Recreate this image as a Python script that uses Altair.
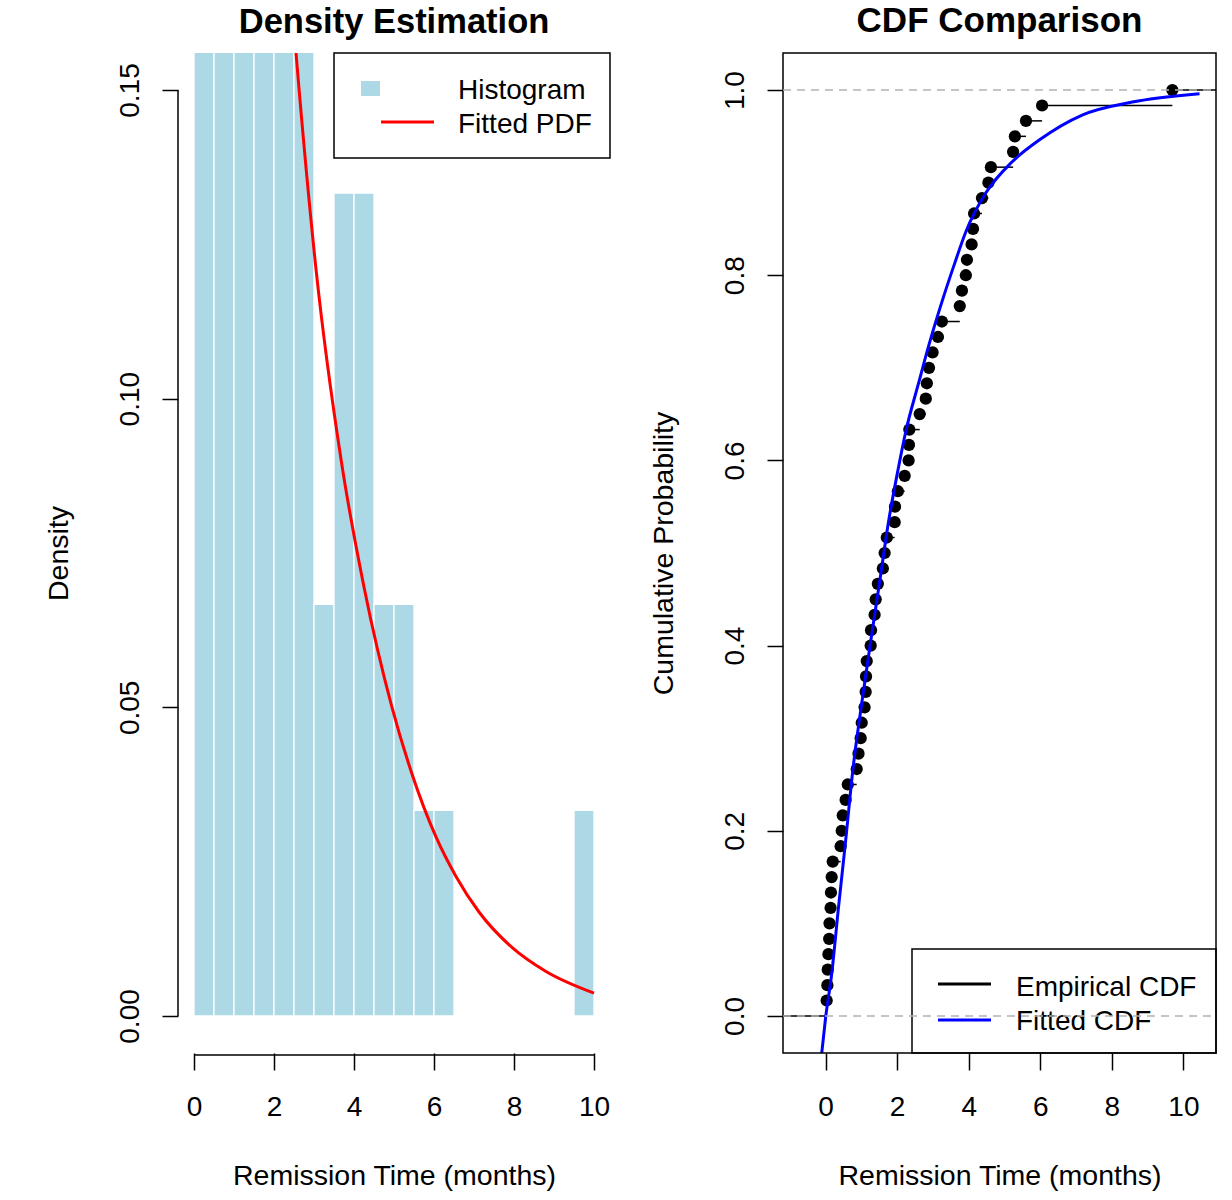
import altair as alt
import pandas as pd

FONT = "Liberation Sans"

# ---------------- data ----------------
# histogram on density scale (bin width 0.5); first six bars exceed the y-limit
bin_start = [0.0, 0.5, 1.0, 1.5, 2.0, 2.5, 3.0, 3.5, 4.0, 4.5, 5.0, 5.5, 6.0, 9.5]
bin_end = [0.5, 1.0, 1.5, 2.0, 2.5, 3.0, 3.5, 4.0, 4.5, 5.0, 5.5, 6.0, 6.5, 10.0]
density = [0.4333, 0.1667, 0.3333, 0.1667, 0.1667, 0.1667, 0.0667, 0.1333,
           0.1333, 0.0667, 0.0667, 0.0333, 0.0333, 0.0333]

# fitted PDF
pdf_x = [2.40, 2.55, 3.05, 3.68, 4.25, 4.95, 5.45, 6.05, 6.55, 7.13, 7.95, 8.80, 10.0]
pdf_y = [0.168, 0.156, 0.121, 0.090, 0.0695, 0.0500, 0.0392, 0.0290, 0.0226,
         0.0168, 0.0111, 0.0072, 0.0037]

# empirical CDF points (sorted remission times, cumulative probability)
ecdf_x = [0.03, 0.05, 0.06, 0.08, 0.10, 0.11, 0.14, 0.15, 0.17, 0.20,
          0.42, 0.45, 0.48, 0.56, 0.62, 0.87, 0.92, 0.98, 1.01, 1.09,
          1.12, 1.13, 1.15, 1.26, 1.27, 1.37, 1.40, 1.46, 1.60, 1.65,
          1.71, 1.93, 1.94, 2.02, 2.21, 2.32, 2.33, 2.34, 2.63, 2.80,
          2.83, 2.89, 2.99, 3.14, 3.25, 3.75, 3.81, 3.92, 3.95, 4.08,
          4.12, 4.15, 4.37, 4.55, 4.62, 5.24, 5.29, 5.60, 6.05, 9.69]
ecdf_p = [0.0167, 0.0333, 0.05, 0.0667, 0.0833, 0.1, 0.1167, 0.1333, 0.15, 0.1667,
          0.1833, 0.2, 0.2167, 0.2333, 0.25, 0.2667, 0.2833, 0.3, 0.3167, 0.3333,
          0.35, 0.3667, 0.3833, 0.4, 0.4167, 0.4333, 0.45, 0.4667, 0.4833, 0.5,
          0.5167, 0.5333, 0.55, 0.5667, 0.5833, 0.6, 0.6167, 0.6333, 0.65, 0.6667,
          0.6833, 0.7, 0.7167, 0.7333, 0.75, 0.7667, 0.7833, 0.8, 0.8167, 0.8333,
          0.85, 0.8667, 0.8833, 0.9, 0.9167, 0.9333, 0.95, 0.9667, 0.9833, 1.0]

# fitted CDF
cdf_x = [-0.11, 0.0, 0.17, 0.36, 0.56, 0.76, 1.0, 1.25, 1.5, 1.76, 2.0, 2.24,
         2.61, 2.89, 3.2, 3.6, 3.92, 4.48, 5.2, 5.97, 7.17, 8.57, 10.45]
cdf_y = [-0.041, -0.002, 0.045, 0.117, 0.189, 0.265, 0.335, 0.402, 0.466, 0.534,
         0.585, 0.631, 0.685, 0.725, 0.765, 0.812, 0.847, 0.889, 0.922, 0.946,
         0.973, 0.987, 0.996]

x_ticks = [0, 2, 4, 6, 8, 10]
dens_ticks = [0.00, 0.05, 0.10, 0.15]
prob_ticks = [0.0, 0.2, 0.4, 0.6, 0.8, 1.0]
ref_levels = [0.0, 1.0]

left_xdom = [-0.4, 10.4]
left_ydom = [-0.006, 0.156]
right_xdom = [-1.19, 10.91]
right_ydom = [-0.04, 1.04]

# ---------------- sizes / styles ----------------
WL, WR, H = 432, 433, 1000
LBLUE = "#ADD8E6"
TXT = 28
NOVIEW = alt.ViewBackground(stroke="transparent", strokeWidth=0)


def x_axis(title):
    return alt.Axis(values=x_ticks, format="d", domain=False, grid=False,
                    tickSize=17, tickWidth=1.5, tickColor="black",
                    labelFontSize=TXT, labelColor="black", labelPadding=23,
                    labelFont=FONT, title=title, titleFont=FONT,
                    titleFontSize=28.5, titleFontWeight="normal",
                    titleColor="black", titlePadding=40)


def y_axis(title, vals, fmt, tpad):
    return alt.Axis(values=vals, format=fmt, domain=False, grid=False,
                    tickSize=16, tickWidth=1.5, tickColor="black",
                    labelAngle=270, labelAlign="center", labelBaseline="bottom",
                    labelFontSize=TXT, labelColor="black", labelPadding=18,
                    labelFont=FONT, title=title, titleFont=FONT,
                    titleFontSize=28.5, titleFontWeight="normal",
                    titleColor="black", titlePadding=tpad)


one = pd.DataFrame({"k": [0]})

# ---------------- left panel ----------------
hist_df = pd.DataFrame({"start": bin_start, "end": bin_end, "density": density})
pdf_df = pd.DataFrame({"x": pdf_x, "y": pdf_y})

lx = alt.Scale(domain=left_xdom, nice=False, zero=False)
ly = alt.Scale(domain=left_ydom, nice=False, zero=False)

bars = alt.Chart(hist_df).mark_rect(
    fill=LBLUE, stroke="white", strokeWidth=1.3, clip=True
).encode(
    x=alt.X("start:Q", scale=lx, axis=x_axis("Remission Time (months)")),
    x2="end:Q",
    y=alt.Y("density:Q", scale=ly, axis=y_axis("Density", dens_ticks, ".2f", 43)),
    y2=alt.datum(0),
)

pdf_line = alt.Chart(pdf_df).mark_line(
    color="#FF0000", strokeWidth=3, clip=True, interpolate="monotone"
).encode(x="x:Q", y="y:Q")

left_xline = alt.Chart(pd.DataFrame({"a": [min(x_ticks)], "b": [max(x_ticks)]})).mark_rule(
    color="black", strokeWidth=1.5
).encode(x="a:Q", x2="b:Q", y=alt.value(H + 2))

left_yline = alt.Chart(pd.DataFrame({"a": [min(dens_ticks)], "b": [max(dens_ticks)]})).mark_rule(
    color="black", strokeWidth=1.5
).encode(y="a:Q", y2="b:Q", x=alt.value(0))

leg_box_l = alt.Chart(one).mark_rect(filled=False, stroke="black", strokeWidth=1.5).encode(
    x=alt.value(156), x2=alt.value(432), y=alt.value(0), y2=alt.value(105))
leg_sq = alt.Chart(one).mark_rect(fill=LBLUE).encode(
    x=alt.value(183), x2=alt.value(202), y=alt.value(28), y2=alt.value(43))
leg_red = alt.Chart(one).mark_rule(color="#FF0000", strokeWidth=3).encode(
    x=alt.value(203), x2=alt.value(256), y=alt.value(69))
leg_t1 = alt.Chart(one).mark_text(text="Histogram", align="left", baseline="middle",
                                  fontSize=TXT, font=FONT, color="black").encode(
    x=alt.value(280), y=alt.value(38))
leg_t2 = alt.Chart(one).mark_text(text="Fitted PDF", align="left", baseline="middle",
                                  fontSize=TXT, font=FONT, color="black").encode(
    x=alt.value(280), y=alt.value(72))

left = alt.layer(
    bars, pdf_line, left_xline, left_yline, leg_box_l, leg_sq, leg_red, leg_t1, leg_t2
).properties(
    width=WL, height=H, view=NOVIEW,
    title=alt.TitleParams("Density Estimation", font=FONT, fontSize=34.5,
                          fontWeight="bold", color="black", anchor="middle",
                          frame="group", baseline="alphabetic", offset=-15),
)

# ---------------- right panel ----------------
rx = alt.Scale(domain=right_xdom, nice=False, zero=False)
ry = alt.Scale(domain=right_ydom, nice=False, zero=False)

pts_df = pd.DataFrame({"x": ecdf_x, "p": ecdf_p})
seg_df = pd.DataFrame({
    "x": [right_xdom[0]] + ecdf_x,
    "x2": ecdf_x + [right_xdom[1]],
    "p": [0.0] + ecdf_p,
})
cdf_df = pd.DataFrame({"x": cdf_x, "y": cdf_y})
ref_df = pd.DataFrame({"level": ref_levels})

frame = alt.Chart(one).mark_rect(filled=False, stroke="black", strokeWidth=1.5).encode(
    x=alt.value(0), x2=alt.value(WR), y=alt.value(0), y2=alt.value(H))

segs = alt.Chart(seg_df).mark_rule(color="black", strokeWidth=1.5, clip=True).encode(
    x=alt.X("x:Q", scale=rx, axis=x_axis("Remission Time (months)")),
    x2="x2:Q",
    y=alt.Y("p:Q", scale=ry, axis=y_axis("Cumulative Probability", prob_ticks, ".1f", 43)),
)

pts = alt.Chart(pts_df).mark_circle(color="black", opacity=1, size=150).encode(
    x="x:Q", y="p:Q")

cdf_line = alt.Chart(cdf_df).mark_line(
    color="#0000FF", strokeWidth=3, clip=True, interpolate="monotone"
).encode(x="x:Q", y="y:Q")

leg_box_r = alt.Chart(one).mark_rect(filled=False, stroke="black", strokeWidth=1.5).encode(
    x=alt.value(129), x2=alt.value(WR), y=alt.value(896), y2=alt.value(H))
leg_blk = alt.Chart(one).mark_rule(color="black", strokeWidth=3).encode(
    x=alt.value(155), x2=alt.value(208), y=alt.value(931))
leg_blu = alt.Chart(one).mark_rule(color="#0000FF", strokeWidth=3).encode(
    x=alt.value(155), x2=alt.value(208), y=alt.value(967))
leg_t3 = alt.Chart(one).mark_text(text="Empirical CDF", align="left", baseline="middle",
                                  fontSize=TXT, font=FONT, color="black").encode(
    x=alt.value(233), y=alt.value(935))
leg_t4 = alt.Chart(one).mark_text(text="Fitted CDF", align="left", baseline="middle",
                                  fontSize=TXT, font=FONT, color="black").encode(
    x=alt.value(233), y=alt.value(969))

ref_lines = alt.Chart(ref_df).mark_rule(color="#B3B3B3", strokeWidth=1.5,
                                        strokeDash=[8, 6]).encode(
    y="level:Q", x=alt.value(0), x2=alt.value(WR))

right = alt.layer(
    segs, pts, cdf_line, frame, leg_box_r, leg_blk, leg_blu, leg_t3, leg_t4, ref_lines
).properties(
    width=WR, height=H, view=NOVIEW,
    title=alt.TitleParams("CDF Comparison", font=FONT, fontSize=35,
                          fontWeight="bold", color="black", anchor="middle",
                          frame="group", baseline="alphabetic", offset=-15),
)

chart = alt.hconcat(left, right, spacing=37).properties(
    background="white",
    padding={"left": 44, "top": 4, "right": 5, "bottom": 5},
).configure_view(stroke="transparent", strokeWidth=0).configure(font=FONT)

chart.save("out.html", embed_options={"renderer": "svg", "actions": False})
